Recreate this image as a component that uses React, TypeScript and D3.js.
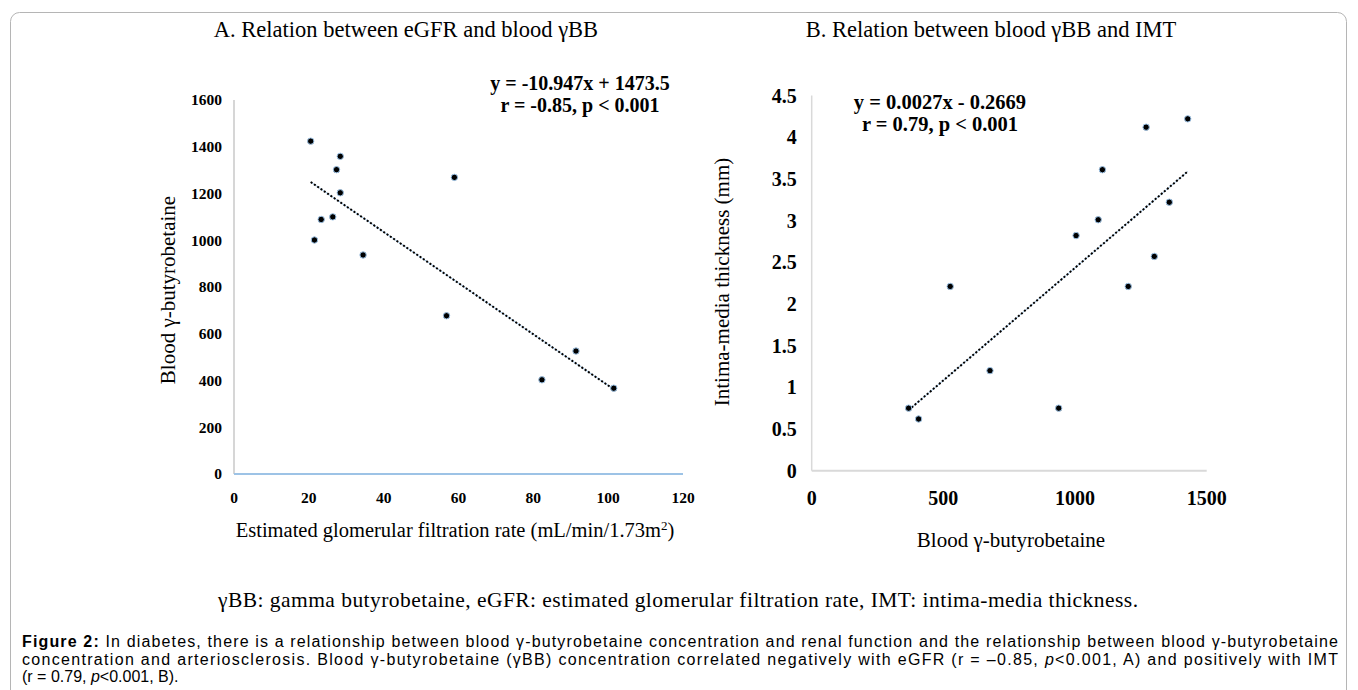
import React, { useEffect, useRef } from 'react';
import * as d3 from 'd3';

// Panel A: eGFR vs blood γBB
const egfr = [20.5, 28.4, 27.4, 28.4, 26.4, 23.3, 21.5, 34.5, 58.9, 56.8, 91.4, 82.3, 101.5];
const gbbA = [1424, 1359, 1302, 1203, 1100, 1089, 1001, 937, 1269, 677, 526, 403, 367];
const xTicksA = [0, 20, 40, 60, 80, 100, 120];
const yTicksA = [0, 200, 400, 600, 800, 1000, 1200, 1400, 1600];
const fitA = { slope: -10.947, intercept: 1473.5 };

// Panel B: blood γBB vs IMT
const gbbB = [1428, 1358, 1301, 1202, 1104, 1088, 1004, 938, 1270, 677, 526, 406, 368];
const imt = [4.22, 3.22, 2.57, 2.21, 3.61, 3.01, 2.82, 0.75, 4.12, 1.2, 2.21, 0.62, 0.75];
const xTicksB = [0, 500, 1000, 1500];
const yTicksB = [0, 0.5, 1, 1.5, 2, 2.5, 3, 3.5, 4, 4.5];
const fitB = { slope: 0.0027, intercept: -0.2669 };

const SERIF = '"Liberation Serif", "Times New Roman", serif';
const SANS = '"Liberation Sans", Arial, sans-serif';

const App = () => {
  const ref = useRef<SVGSVGElement>(null);

  useEffect(() => {
    const svg = d3.select(ref.current);
    svg.selectAll('*').remove();

    // frame
    svg.append('rect')
      .attr('x', 10.5).attr('y', 12.5)
      .attr('width', 1336).attr('height', 720)
      .attr('rx', 9)
      .attr('fill', 'none')
      .attr('stroke', '#b5b5b5');

    const drawPanel = (opts: any) => {
      const { xs, ys, xDomain, yDomain, xRange, yRange, xTicks, yTicks, fit,
        xAxisColor, yAxisColor, tickSize } = opts;
      const x = d3.scaleLinear().domain(xDomain).range(xRange);
      const y = d3.scaleLinear().domain(yDomain).range(yRange);
      const g = svg.append('g');

      // axes lines
      g.append('line')
        .attr('x1', x(xDomain[0])).attr('x2', x(xDomain[0]))
        .attr('y1', y(yDomain[0])).attr('y2', y(yDomain[1]))
        .attr('stroke', yAxisColor).attr('stroke-width', 1.5);
      g.append('line')
        .attr('x1', x(xDomain[0])).attr('x2', x(xDomain[1]))
        .attr('y1', y(yDomain[0])).attr('y2', y(yDomain[0]))
        .attr('stroke', xAxisColor).attr('stroke-width', 2);

      // tick labels
      g.selectAll('.yt').data(yTicks).enter().append('text')
        .attr('x', x(xDomain[0]) - opts.yLabelGap)
        .attr('y', (d: number) => y(d))
        .attr('dy', '0.35em')
        .attr('text-anchor', 'end')
        .attr('font-family', SERIF).attr('font-weight', 'bold')
        .attr('font-size', tickSize)
        .text((d: number) => String(d));
      g.selectAll('.xt').data(xTicks).enter().append('text')
        .attr('x', (d: number) => x(d))
        .attr('y', y(yDomain[0]) + opts.xLabelGap)
        .attr('dy', '0.35em')
        .attr('text-anchor', 'middle')
        .attr('font-family', SERIF).attr('font-weight', 'bold')
        .attr('font-size', tickSize)
        .text((d: number) => String(d));

      // trend line
      const x0 = d3.min(xs) as number;
      const x1 = d3.max(xs) as number;
      const f = (v: number) => fit.slope * v + fit.intercept;
      g.append('line')
        .attr('x1', x(x0)).attr('y1', y(f(x0)))
        .attr('x2', x(x1)).attr('y2', y(f(x1)))
        .attr('stroke', '#9dc3e6').attr('stroke-width', 1);
      g.append('line')
        .attr('x1', x(x0)).attr('y1', y(f(x0)))
        .attr('x2', x(x1)).attr('y2', y(f(x1)))
        .attr('stroke', '#000').attr('stroke-width', 2)
        .attr('stroke-dasharray', '2,2');

      // points
      g.selectAll('circle').data(xs).enter().append('circle')
        .attr('cx', (d: number) => x(d))
        .attr('cy', (d: number, i: number) => y(ys[i]))
        .attr('r', 3.2)
        .attr('fill', '#000')
        .attr('stroke', '#9dc3e6')
        .attr('stroke-width', 1);

      return { x, y, g };
    };

    // Panel A
    const A = drawPanel({
      xs: egfr, ys: gbbA,
      xDomain: [0, 120], yDomain: [0, 1600],
      xRange: [234, 683], yRange: [474, 100],
      xTicks: xTicksA, yTicks: yTicksA, fit: fitA,
      xAxisColor: '#9dc3e6', yAxisColor: '#c8c8c8',
      tickSize: 15.5, yLabelGap: 12, xLabelGap: 24,
    });

    // Panel B
    const B = drawPanel({
      xs: gbbB, ys: imt,
      xDomain: [0, 1500], yDomain: [0, 4.5],
      xRange: [811.7, 1206.7], yRange: [470.7, 95.5],
      xTicks: xTicksB, yTicks: yTicksB, fit: fitB,
      xAxisColor: '#d9d9d9', yAxisColor: '#d9d9d9',
      tickSize: 20, yLabelGap: 15, xLabelGap: 27,
    });

    // Titles
    svg.append('text')
      .attr('x', 406).attr('y', 37)
      .attr('text-anchor', 'middle')
      .attr('font-family', SERIF).attr('font-size', 22.5)
      .text('A. Relation between eGFR and blood γBB');
    svg.append('text')
      .attr('x', 991).attr('y', 37)
      .attr('text-anchor', 'middle')
      .attr('font-family', SERIF).attr('font-size', 22.5)
      .text('B. Relation between blood γBB and IMT');

    // Equations
    const eq = (g: any, cx: number, cy: number, size: number, lines: string[]) => {
      lines.forEach((s, i) => {
        g.append('text')
          .attr('x', cx).attr('y', cy + i * 21.5)
          .attr('text-anchor', 'middle')
          .attr('font-family', SERIF).attr('font-weight', 'bold')
          .attr('font-size', size)
          .text(s);
      });
    };
    eq(A.g, 580, 90, 20, ['y = -10.947x + 1473.5', 'r = -0.85, p < 0.001']);
    eq(B.g, 940, 109, 20.5, ['y = 0.0027x - 0.2669', 'r = 0.79, p < 0.001']);

    // Axis titles
    A.g.append('text')
      .attr('transform', 'translate(175,290) rotate(-90)')
      .attr('text-anchor', 'middle')
      .attr('font-family', SERIF).attr('font-size', 21)
      .text('Blood γ-butyrobetaine');
    const xt = A.g.append('text')
      .attr('x', 455).attr('y', 537)
      .attr('text-anchor', 'middle')
      .attr('font-family', SERIF).attr('font-size', 20.5);
    xt.append('tspan').text('Estimated glomerular filtration rate (mL/min/1.73m');
    xt.append('tspan').attr('dy', -7).attr('font-size', 13).text('2');
    xt.append('tspan').attr('dy', 7).text(')');

    B.g.append('text')
      .attr('transform', 'translate(729,282) rotate(-90)')
      .attr('text-anchor', 'middle')
      .attr('font-family', SERIF).attr('font-size', 21)
      .text('Intima-media thickness (mm)');
    B.g.append('text')
      .attr('x', 1011).attr('y', 547)
      .attr('text-anchor', 'middle')
      .attr('font-family', SERIF).attr('font-size', 21)
      .text('Blood γ-butyrobetaine');

    // Footnote
    svg.append('text')
      .attr('x', 218).attr('y', 607)
      .attr('textLength', 920).attr('lengthAdjust', 'spacing')
      .attr('font-family', SERIF).attr('font-size', 21.5)
      .text('γBB: gamma butyrobetaine, eGFR: estimated glomerular filtration rate, IMT: intima-media thickness.');

    // Caption
    const cap = svg.append('g')
      .attr('font-family', SANS).attr('font-size', 16).attr('fill', '#000');
    const l1 = cap.append('text').attr('x', 22).attr('y', 647)
      .attr('textLength', 1316).attr('lengthAdjust', 'spacing');
    l1.append('tspan').attr('font-weight', 'bold').text('Figure 2:');
    l1.append('tspan').text(' In diabetes, there is a relationship between blood γ-butyrobetaine concentration and renal function and the relationship between blood γ-butyrobetaine');
    const l2 = cap.append('text').attr('x', 22).attr('y', 665)
      .attr('textLength', 1316).attr('lengthAdjust', 'spacing');
    l2.append('tspan').text('concentration and arteriosclerosis. Blood γ-butyrobetaine (γBB) concentration correlated negatively with eGFR (r = –0.85, ');
    l2.append('tspan').attr('font-style', 'italic').text('p');
    l2.append('tspan').text('<0.001, A) and positively with IMT');
    const l3 = cap.append('text').attr('x', 22).attr('y', 682);
    l3.append('tspan').text('(r = 0.79, ');
    l3.append('tspan').attr('font-style', 'italic').text('p');
    l3.append('tspan').text('<0.001, B).');
  }, []);

  return (
    <svg ref={ref} width={1358} height={690}
      style={{ position: 'absolute', left: 0, top: 0, background: '#fff' }} />
  );
};

export default App;
